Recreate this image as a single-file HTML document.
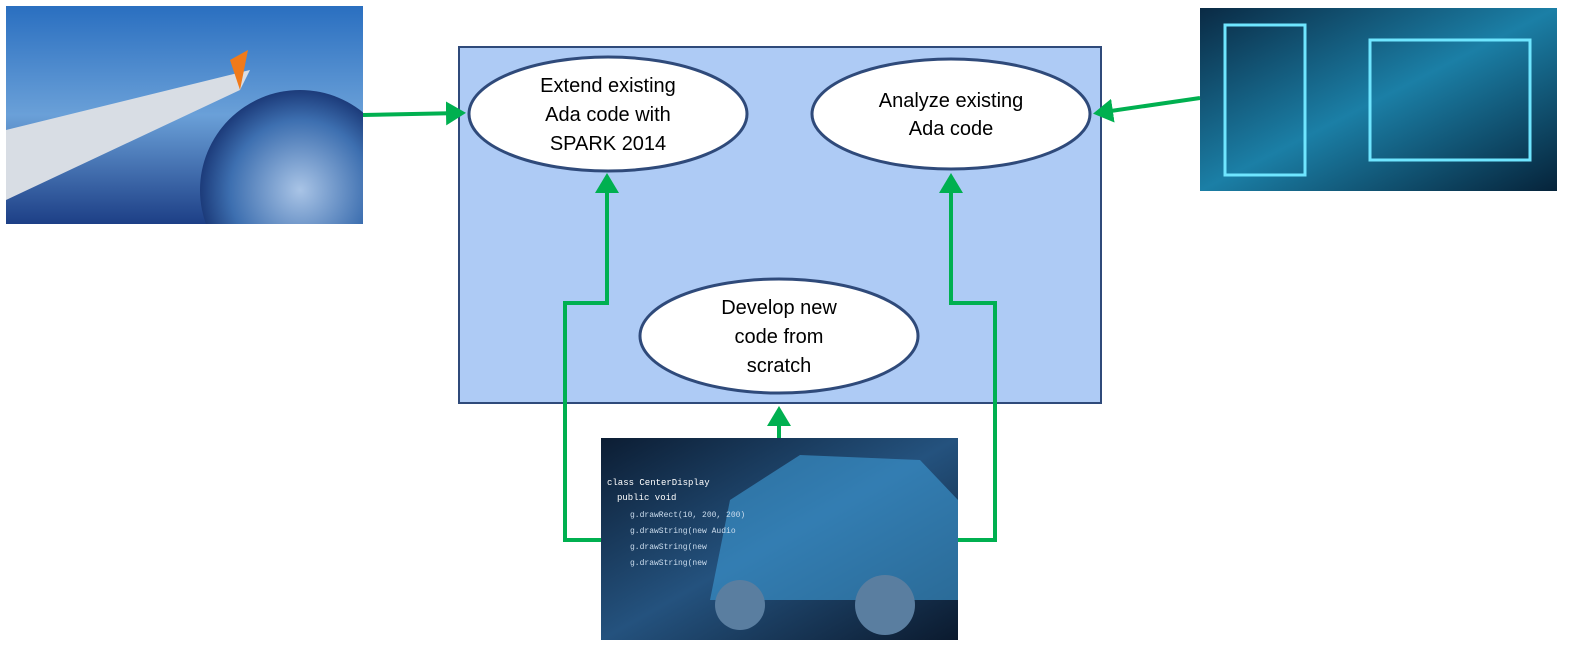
<!DOCTYPE html>
<html><head><meta charset="utf-8"><style>
html,body{margin:0;padding:0;background:#fff;width:1576px;height:655px;overflow:hidden}
</style></head><body>
<svg width="1576" height="655" xmlns="http://www.w3.org/2000/svg" style="display:block">
<defs>
<linearGradient id="g1" x1="0" y1="0" x2="0" y2="1"><stop offset="0" stop-color="#2a6fc0"/><stop offset="0.5" stop-color="#6aa0d8"/><stop offset="1" stop-color="#1d3f86"/></linearGradient>
<radialGradient id="earth" cx="0.5" cy="0.5" r="0.5"><stop offset="0" stop-color="#a9c4e6"/><stop offset="0.7" stop-color="#3d6fb0"/><stop offset="1" stop-color="#1c3b7a"/></radialGradient>
<linearGradient id="g2" x1="0" y1="0" x2="1" y2="1"><stop offset="0" stop-color="#0a2a44"/><stop offset="0.5" stop-color="#1b7fa6"/><stop offset="1" stop-color="#06233a"/></linearGradient>
<linearGradient id="g3" x1="0" y1="0" x2="1" y2="1"><stop offset="0" stop-color="#0c1d33"/><stop offset="0.5" stop-color="#24527e"/><stop offset="1" stop-color="#0b1a2e"/></linearGradient>
<clipPath id="c1"><rect x="6" y="6" width="357" height="218"/></clipPath>
<clipPath id="c3"><rect x="601" y="438" width="357" height="202"/></clipPath>
<marker id="ah" markerWidth="6" markerHeight="6" refX="4" refY="3" orient="auto" markerUnits="strokeWidth"><path d="M0,0 L5,3 L0,6 z" fill="#00b050"/></marker>
</defs>
<g clip-path="url(#c1)">
<rect x="6" y="6" width="357" height="218" fill="url(#g1)"/>
<circle cx="300" cy="190" r="100" fill="url(#earth)"/>
<path d="M6,130 L250,70 L240,90 L6,200 z" fill="#d8dde4"/>
<path d="M230,60 L248,50 L240,90 z" fill="#f07a1a"/>
</g>
<rect x="1200" y="8" width="357" height="183" fill="url(#g2)"/>
<rect x="1225" y="25" width="80" height="150" fill="none" stroke="#6fe6ff" stroke-width="3"/>
<rect x="1370" y="40" width="160" height="120" fill="none" stroke="#6fe6ff" stroke-width="3"/>
<g clip-path="url(#c3)">
<rect x="601" y="438" width="357" height="202" fill="url(#g3)"/>
<path d="M710,600 L730,500 L800,455 L920,460 L958,500 L958,600 z" fill="#3d9bd6" opacity="0.6"/>
<circle cx="885" cy="605" r="30" fill="#5a7ea0"/>
<circle cx="740" cy="605" r="25" fill="#5a7ea0"/>
<text x="607" y="485" font-family="Liberation Mono,monospace" font-size="9" fill="#fff">class CenterDisplay</text>
<text x="617" y="500" font-family="Liberation Mono,monospace" font-size="9" fill="#fff">public void</text>
<text x="630" y="517" font-family="Liberation Mono,monospace" font-size="8" fill="#cde">g.drawRect(10, 200, 200)</text>
<text x="630" y="533" font-family="Liberation Mono,monospace" font-size="8" fill="#cde">g.drawString(new Audio</text>
<text x="630" y="549" font-family="Liberation Mono,monospace" font-size="8" fill="#cde">g.drawString(new</text>
<text x="630" y="565" font-family="Liberation Mono,monospace" font-size="8" fill="#cde">g.drawString(new</text>
</g>
<rect x="459" y="47" width="642" height="356" fill="#aecbf5" stroke="#2f4a7a" stroke-width="2"/>
<g fill="#fff" stroke="#2f4a7a" stroke-width="3">
<ellipse cx="608" cy="114" rx="139" ry="57"/>
<ellipse cx="951" cy="114" rx="139" ry="55"/>
<ellipse cx="779" cy="336" rx="139" ry="57"/>
</g>
<g font-family="Liberation Sans,sans-serif" font-size="20" fill="#000" text-anchor="middle">
<text x="608" y="92">Extend existing</text>
<text x="608" y="121">Ada code with</text>
<text x="608" y="150">SPARK 2014</text>
<text x="951" y="107">Analyze existing</text>
<text x="951" y="135">Ada code</text>
<text x="779" y="314">Develop new</text>
<text x="779" y="343">code from</text>
<text x="779" y="372">scratch</text>
</g>
<g stroke="#00b050" stroke-width="4" fill="none" marker-end="url(#ah)">
<line x1="363" y1="115" x2="462" y2="113"/>
<line x1="1200" y1="98" x2="1097" y2="113"/>
<polyline points="601,540 565,540 565,303 607,303 607,177"/>
<polyline points="958,540 995,540 995,303 951,303 951,177"/>
<line x1="779" y1="438" x2="779" y2="410"/>
</g>
</svg>
</body></html>
